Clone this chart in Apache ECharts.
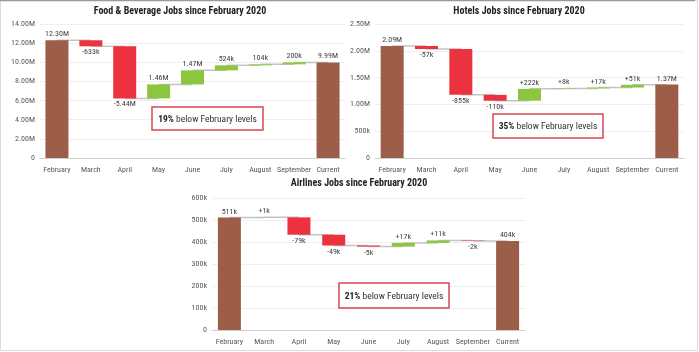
<!DOCTYPE html>
<html>
<head>
<meta charset="utf-8">
<script src="https://cdn.jsdelivr.net/npm/echarts@6/dist/echarts.min.js"></script>
<style>
  html, body { margin: 0; padding: 0; background: #fff; }
  #chart { width: 699px; height: 352px; }
</style>
</head>
<body>
<div id="chart"></div>
<script>
// months + final total
const categories = ['February', 'March', 'April', 'May', 'June', 'July', 'August', 'September', 'Current'];

// first and last entries are totals, the rest are monthly changes
const foodValues = [12300000, -633000, -5440000, 1460000, 1470000, 524000, 104000, 200000, 9990000];
const hotelValues = [2090000, -57000, -855000, -110000, 222000, 8000, 17000, 51000, 1370000];
const airlineValues = [511000, 1000, -79000, -49000, -5000, 17000, 11000, -2000, 404000];

const titles = ['Food & Beverage Jobs since February 2020', 'Hotels Jobs since February 2020', 'Airlines Jobs since February 2020'];
const notePct = ['19%', '35%', '21%'];

const FONT = '"Roboto Condensed", "Liberation Sans Narrow", Roboto, sans-serif';
const BROWN = '#9c5e48';
const RED = '#ec323f';
const GREEN = '#8cc63f';

function fmtAxis(v) {
    if (v === 0) return '0';
    if (v >= 1000000) return (v / 1000000).toFixed(2) + 'M';
    return (v / 1000) + 'k';
}

function fmtValue(v, plus) {
    const a = Math.abs(v);
    const s = a >= 1000000 ? (a / 1000000).toFixed(2) + 'M' : Math.round(a / 1000) + 'k';
    if (v < 0) return '-' + s;
    return (plus ? '+' : '') + s;
}

function waterfall(idx, values, plus) {
    const last = values.length - 1;
    const base = [];
    const shown = [];
    const steps = [];
    let run = 0;
    values.forEach((v, i) => {
        if (i === 0 || i === last) {
            base.push(0);
            shown.push({
                value: v,
                itemStyle: { color: BROWN },
                label: { position: 'top', formatter: fmtValue(v, false) }
            });
            run = i === 0 ? v : run;
        } else {
            const next = run + v;
            base.push(Math.min(run, next));
            shown.push({
                value: Math.abs(v),
                itemStyle: { color: v < 0 ? RED : GREEN },
                label: { position: v < 0 ? 'bottom' : 'top', formatter: fmtValue(v, plus) }
            });
            run = next;
        }
        if (i < last) steps.push([i, run]);
    });

    return [
        {
            type: 'custom',
            xAxisIndex: idx,
            yAxisIndex: idx,
            z: 1,
            silent: true,
            data: steps,
            renderItem: function (params, api) {
                const a = api.coord([api.value(0), api.value(1)]);
                const b = api.coord([api.value(0) + 1, api.value(1)]);
                return {
                    type: 'line',
                    shape: { x1: a[0], y1: a[1], x2: b[0], y2: b[1] },
                    style: { stroke: '#c4c4c4', lineWidth: 1.5 }
                };
            }
        },
        {
            type: 'bar',
            xAxisIndex: idx,
            yAxisIndex: idx,
            stack: 'w' + idx,
            barWidth: 23,
            z: 2,
            itemStyle: { color: 'transparent' },
            data: base
        },
        {
            type: 'bar',
            xAxisIndex: idx,
            yAxisIndex: idx,
            stack: 'w' + idx,
            barWidth: 23,
            z: 2,
            label: {
                show: true,
                fontFamily: FONT,
                fontSize: 8,
                color: '#404040',
                distance: 2
            },
            data: shown
        }
    ];
}

const grids = [
    { left: 40, top: 24, width: 305, height: 134 },
    { left: 375, top: 24, width: 309, height: 134 },
    { left: 212, top: 198, width: 313, height: 132 }
];
const yMax = [14000000, 2500000, 600000];
const yStep = [2000000, 500000, 100000];

const xAxes = grids.map((g, i) => ({
    type: 'category',
    gridIndex: i,
    data: categories,
    axisTick: { show: false },
    axisLine: { lineStyle: { color: '#cfcfcf', width: 1 } },
    axisLabel: { fontFamily: FONT, fontSize: 8, color: '#5a5a5a', margin: 8, interval: 0 }
}));

const yAxes = grids.map((g, i) => ({
    type: 'value',
    gridIndex: i,
    min: 0,
    max: yMax[i],
    interval: yStep[i],
    axisLine: { show: false },
    axisTick: { show: false },
    splitLine: { lineStyle: { color: '#efefef' } },
    axisLabel: { fontFamily: FONT, fontSize: 8, color: '#5a5a5a', margin: 5, formatter: fmtAxis }
}));

const titlePos = [[180, 11], [519, 11], [359, 183]];
const notes = [
    { x: 152, y: 107, w: 111, h: 23 },
    { x: 493, y: 114, w: 110, h: 24 },
    { x: 339, y: 283, w: 110, h: 25 }
];

const graphics = [
    {
        type: 'rect',
        shape: { x: 0.5, y: 0.5, width: 697, height: 350 },
        style: { fill: 'none', stroke: '#dcdcdc', lineWidth: 1 }
    },
    {
        type: 'line',
        shape: { x1: 0, y1: 0.5, x2: 695, y2: 0.5 },
        style: { stroke: '#9a9a9a', lineWidth: 1.5 }
    }
];

titles.forEach((t, i) => {
    graphics.push({
        type: 'text',
        x: titlePos[i][0],
        y: titlePos[i][1],
        style: {
            text: t,
            fontFamily: FONT,
            fontSize: 10,
            fontWeight: 'bold',
            fill: '#222',
            textAlign: 'center',
            textVerticalAlign: 'middle'
        }
    });
});

notes.forEach((n, i) => {
    graphics.push({
        type: 'rect',
        shape: { x: n.x, y: n.y, width: n.w, height: n.h },
        style: { fill: '#fff', stroke: '#d9454f', lineWidth: 1.5 },
        z: 10
    });
    graphics.push({
        type: 'text',
        x: n.x + n.w / 2,
        y: n.y + n.h / 2 + 1,
        z: 11,
        style: {
            text: '{b|' + notePct[i] + '} below February levels',
            fontFamily: FONT,
            fontSize: 9.5,
            fill: '#333',
            textAlign: 'center',
            textVerticalAlign: 'middle',
            rich: {
                b: { fontFamily: FONT, fontSize: 9.5, fontWeight: 'bold', fill: '#222' }
            }
        }
    });
});

const myChart = echarts.init(document.getElementById('chart'), null, { renderer: 'canvas' });

myChart.setOption({
    animation: false,
    backgroundColor: '#fff',
    grid: grids,
    xAxis: xAxes,
    yAxis: yAxes,
    series: [].concat(
        waterfall(0, foodValues, false),
        waterfall(1, hotelValues, true),
        waterfall(2, airlineValues, true)
    ),
    graphic: graphics
});
</script>
</body>
</html>
